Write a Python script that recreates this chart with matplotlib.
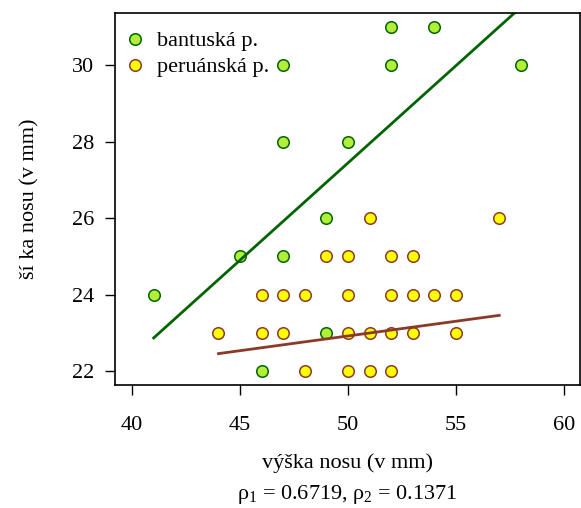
import matplotlib
matplotlib.use("Agg")
import matplotlib.pyplot as plt
from matplotlib.lines import Line2D

plt.rcParams["font.family"] = ["Liberation Serif", "DejaVu Serif"]
plt.rcParams["mathtext.fontset"] = "custom"
plt.rcParams["mathtext.rm"] = "Liberation Serif"
plt.rcParams["mathtext.it"] = "Liberation Serif:italic"

# Bantu population: nose height vs. nose width (mm)
bantu_x = [41, 45, 46, 47, 47, 47, 49, 49, 50, 52, 52, 54, 58]
bantu_y = [24, 25, 22, 30, 28, 25, 26, 23, 28, 31, 30, 31, 30]

# Peruvian population
peru_x = [44, 46, 46, 47, 47, 48, 48, 49, 50, 50, 50, 50, 51, 51, 51,
          52, 52, 52, 52, 53, 53, 53, 54, 55, 55, 57]
peru_y = [23, 24, 23, 24, 23, 24, 22, 25, 25, 24, 23, 22, 26, 23, 22,
          25, 24, 23, 22, 25, 24, 23, 24, 24, 23, 26]

# Regression lines (end points in data units)
bantu_fit_x = [41, 58]
bantu_fit_y = [22.87, 31.51]
peru_fit_x = [44, 57]
peru_fit_y = [22.46, 23.46]

labels = ["bantuská p.", "peruánská p."]
x_ticks = [40, 45, 50, 55, 60]
y_ticks = [22, 24, 26, 28, 30]
rho_text = r"$\mathregular{\rho_1}$ = 0.6719, $\mathregular{\rho_2}$ = 0.1371"

green_fill, green_edge = "#b3ee3a", "#006400"
yellow_fill, brown_edge = "#ffff00", "#8b3a2a"
FS = 16
MS = 8.3

fig = plt.figure(figsize=(5.81, 5.08), dpi=100)
ax = fig.add_axes([115 / 581, 1 - 385 / 508, 465 / 581, 372 / 508])

ax.plot(bantu_x, bantu_y, linestyle="none", marker="o", markersize=MS,
        markerfacecolor=green_fill, markeredgecolor=green_edge, markeredgewidth=1.1)
ax.plot(peru_x, peru_y, linestyle="none", marker="o", markersize=MS,
        markerfacecolor=yellow_fill, markeredgecolor=brown_edge, markeredgewidth=1.1)
ax.plot(bantu_fit_x, bantu_fit_y, color=green_edge, linewidth=2)
ax.plot(peru_fit_x, peru_fit_y, color=brown_edge, linewidth=2)

ax.set_xlim(39.21, 60.74)
ax.set_ylim(21.64, 31.36)
ax.set_xticks(x_ticks)
ax.set_yticks(y_ticks)
ax.tick_params(direction="out", length=7, width=1, labelsize=FS)
ax.tick_params(axis="x", pad=15)
ax.tick_params(axis="y", pad=8)
for s in ax.spines.values():
    s.set_linewidth(1.2)

ax.set_xlabel("výška nosu (v mm)", fontsize=FS, va="center")
ax.xaxis.set_label_coords(0.5, (385 - 463) / 372)
ax.set_ylabel("ší ka nosu (v mm)", fontsize=FS, va="center")
ax.yaxis.set_label_coords((30 - 115) / 465, 0.5)
ax.text(0.5, (385 - 494) / 372, rho_text, ha="center", va="center",
        fontsize=FS, transform=ax.transAxes)

handles = [
    Line2D([], [], linestyle="none", marker="o", markersize=MS,
           markerfacecolor=green_fill, markeredgecolor=green_edge, markeredgewidth=1.1),
    Line2D([], [], linestyle="none", marker="o", markersize=MS,
           markerfacecolor=yellow_fill, markeredgecolor=brown_edge, markeredgewidth=1.1),
]
ax.legend(handles, labels, loc="upper left", bbox_to_anchor=(-7 / 465, 1),
          frameon=False, fontsize=FS,
          handlelength=0.8, handletextpad=0.6, labelspacing=0.25,
          borderaxespad=0.5, borderpad=0.3)

fig.savefig("out.png", dpi=100)
